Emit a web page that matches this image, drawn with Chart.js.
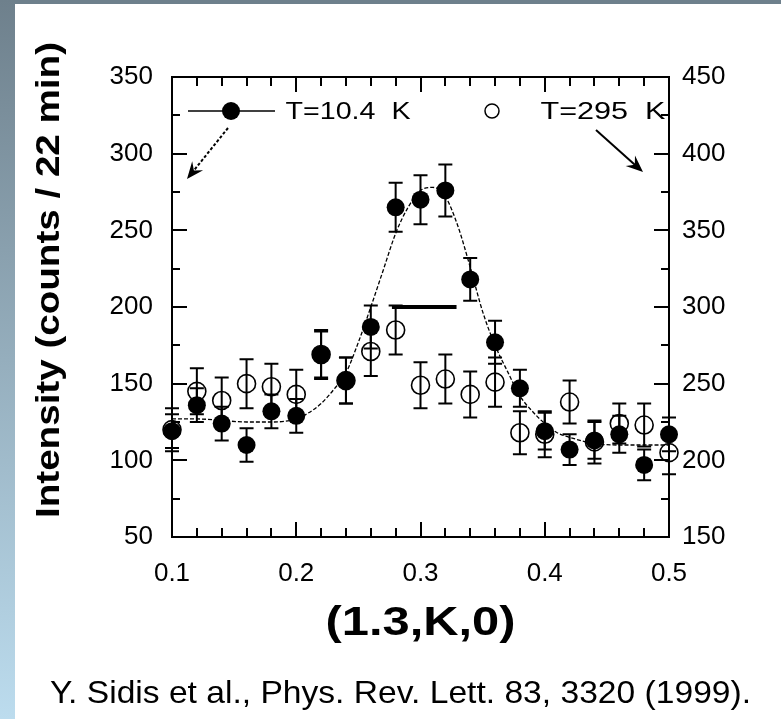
<!DOCTYPE html>
<html>
<head>
<meta charset="utf-8">
<script src="https://cdn.jsdelivr.net/npm/chart.js@4.4.1/dist/chart.umd.min.js"></script>
<style>
  html, body { margin: 0; padding: 0; background: #fff; }
  body { width: 781px; height: 719px; position: relative; overflow: hidden; font-family: 'Liberation Sans', Arial, sans-serif; }
  #faixaTopo { position: absolute; left: 0; top: 0; width: 781px; height: 4px; background: #6e808c; }
  #faixaLado { position: absolute; left: 0; top: 0; width: 15px; height: 719px; background: linear-gradient(#6e808c, #bcdcee); }
  #grafico { position: absolute; left: 0; top: 0; }
  #citacao { position: absolute; left: 50px; top: 676px; font-size: 32px; line-height: 32px; color: #000; white-space: nowrap; transform: scaleX(1.05); transform-origin: left center; }
</style>
</head>
<body>
<div id="faixaTopo"></div>
<div id="faixaLado"></div>
<canvas id="grafico" width="781" height="719"></canvas>
<div id="citacao">Y. Sidis et al., Phys. Rev. Lett. 83, 3320 (1999).</div>
<script>
// posições em K (1.3,K,0)
const kValores = [0.10, 0.12, 0.14, 0.16, 0.18, 0.20, 0.22, 0.24, 0.26, 0.28, 0.30,
                  0.32, 0.34, 0.36, 0.38, 0.40, 0.42, 0.44, 0.46, 0.48, 0.50];

// T = 10.4 K (eixo da esquerda)
const contagens10 = [119, 136, 124, 110, 132, 129, 169, 152, 187, 265, 270,
                     276, 218, 177, 147, 119, 107, 113, 117, 97, 117];
const erros10 = [11, 11, 11, 11, 11, 11, 16, 15, 14, 16, 16,
                 17, 14, 14, 12, 12, 10, 12, 12, 10, 11];

// T = 295 K (eixo da direita)
const contagens295 = [220, 245, 239, 250, 248, 243, 269, 252, 271, 285, 249,
                      253, 243, 251, 218, 217, 238, 212, 224, 223, 205];
const erros295 = [14, 15, 15, 16, 15, 16, 15, 15, 16, 16, 15,
                  16, 15, 16, 14, 15, 14, 14, 13, 14, 14];

// curva ajustada a 10.4 K
const ajusteK = [0.10, 0.12, 0.14, 0.16, 0.18, 0.20, 0.21, 0.22, 0.23, 0.24, 0.25,
                 0.26, 0.27, 0.28, 0.29, 0.30, 0.31, 0.32, 0.33, 0.34, 0.35, 0.36,
                 0.37, 0.38, 0.39, 0.40, 0.41, 0.42, 0.44, 0.46, 0.48, 0.50];
const ajusteI = [127, 127, 126, 125, 125, 127, 131, 137, 146, 157, 177,
                 200, 224, 248, 265, 276, 278, 272, 253, 226, 197, 175,
                 158, 142, 132, 124, 118, 115, 111, 110, 110, 110];

// resolução instrumental
const resolucaoK = [0.277, 0.329];
const resolucaoI = [200, 200];

// marcas e rótulos dos eixos
const xRotulos = [0.1, 0.2, 0.3, 0.4, 0.5];
const xMenores = [0.12, 0.14, 0.16, 0.18, 0.22, 0.24, 0.26, 0.28, 0.32, 0.34, 0.36, 0.38, 0.42, 0.44, 0.46, 0.48];
const yRotulos = [50, 100, 150, 200, 250, 300, 350];
const yMenores = [75, 125, 175, 225, 275, 325];
const y2Rotulos = [150, 200, 250, 300, 350, 400, 450];
const y2Menores = [175, 225, 275, 325, 375, 425];

const legenda10 = 'T=10.4  K';
const legenda295 = 'T=295  K';
const tituloY = 'Intensity (counts / 22 min)';
const tituloX = '(1.3,K,0)';

const FONTE = "'Liberation Sans', Arial, Helvetica, sans-serif";

function textoEsticado(ctx, texto, x, y, largura, fonte, angulo) {
  ctx.save();
  ctx.font = fonte;
  ctx.translate(x, y);
  ctx.rotate(angulo);
  const w = ctx.measureText(texto).width;
  ctx.scale(largura / w, 1);
  ctx.textAlign = 'center';
  ctx.textBaseline = 'middle';
  ctx.fillStyle = '#000';
  ctx.fillText(texto, 0, 0);
  ctx.restore();
}

function seta(ctx, x0, y0, x1, y1, tracejada) {
  const ang = Math.atan2(y1 - y0, x1 - x0);
  const comp = 17, abertura = 7;
  ctx.save();
  ctx.strokeStyle = '#000';
  ctx.fillStyle = '#000';
  ctx.lineWidth = 2;
  ctx.setLineDash(tracejada ? [3, 2] : []);
  ctx.beginPath();
  ctx.moveTo(x0, y0);
  ctx.lineTo(x1 - Math.cos(ang) * 8, y1 - Math.sin(ang) * 8);
  ctx.stroke();
  ctx.setLineDash([]);
  ctx.translate(x1, y1);
  ctx.rotate(ang);
  ctx.beginPath();
  ctx.moveTo(0, 0);
  ctx.lineTo(-comp, -abertura);
  ctx.lineTo(-comp + 6, 0);
  ctx.lineTo(-comp, abertura);
  ctx.closePath();
  ctx.fill();
  ctx.restore();
}

// moldura e marcas para dentro nos quatro lados
const moldura = {
  id: 'moldura',
  beforeDatasetsDraw(chart) {
    const { ctx, chartArea: a, scales: { x, y, y2 } } = chart;
    ctx.save();
    ctx.strokeStyle = '#000';
    ctx.lineWidth = 2;
    ctx.beginPath();
    const vert = (v, len) => {
      const px = Math.round(x.getPixelForValue(v));
      ctx.moveTo(px, a.bottom); ctx.lineTo(px, a.bottom - len);
      ctx.moveTo(px, a.top); ctx.lineTo(px, a.top + len);
    };
    xRotulos.forEach(v => vert(v, 15));
    xMenores.forEach(v => vert(v, 9));
    const horiz = (escala, v, len, lado) => {
      const py = Math.round(escala.getPixelForValue(v));
      if (lado === 'esq') { ctx.moveTo(a.left, py); ctx.lineTo(a.left + len, py); }
      else { ctx.moveTo(a.right, py); ctx.lineTo(a.right - len, py); }
    };
    yRotulos.forEach(v => horiz(y, v, 15, 'esq'));
    yMenores.forEach(v => horiz(y, v, 8, 'esq'));
    y2Rotulos.forEach(v => horiz(y2, v, 15, 'dir'));
    y2Menores.forEach(v => horiz(y2, v, 8, 'dir'));
    ctx.stroke();
    ctx.strokeRect(a.left, a.top, a.right - a.left, a.bottom - a.top);

    // barras de erro (abertos primeiro, cheios por cima)
    const barras = (valores, erros, escala) => {
      ctx.beginPath();
      kValores.forEach((k, i) => {
        const px = x.getPixelForValue(k);
        const topo = escala.getPixelForValue(valores[i] + erros[i]);
        const base = escala.getPixelForValue(valores[i] - erros[i]);
        ctx.moveTo(px, topo); ctx.lineTo(px, base);
        ctx.moveTo(px - 7, topo); ctx.lineTo(px + 7, topo);
        ctx.moveTo(px - 7, base); ctx.lineTo(px + 7, base);
      });
      ctx.stroke();
    };
    barras(contagens295, erros295, y2);
    barras(contagens10, erros10, y);
    ctx.restore();
  },
  afterDraw(chart) {
    const { ctx, chartArea: a } = chart;
    ctx.save();
    // legenda
    ctx.strokeStyle = '#000';
    ctx.lineWidth = 1.5;
    ctx.beginPath();
    ctx.moveTo(a.left + 16, a.top + 34);
    ctx.lineTo(a.left + 103, a.top + 34);
    ctx.stroke();
    ctx.fillStyle = '#000';
    ctx.beginPath();
    ctx.arc(a.left + 59, a.top + 34, 9, 0, Math.PI * 2);
    ctx.fill();
    ctx.beginPath();
    ctx.lineWidth = 1.5;
    ctx.arc(a.left + 320, a.top + 34, 7, 0, Math.PI * 2);
    ctx.stroke();
    ctx.restore();
    textoEsticado(ctx, legenda10, a.left + 176, a.top + 35, 125, '24px ' + FONTE, 0);
    textoEsticado(ctx, legenda295, a.left + 431, a.top + 35, 125, '24px ' + FONTE, 0);
    seta(ctx, a.left + 56, a.top + 51, a.left + 15, a.top + 102, true);
    seta(ctx, a.left + 424, a.top + 53, a.left + 471, a.top + 95, false);

    // títulos dos eixos
    textoEsticado(ctx, tituloY, 50, 280, 476, 'bold 33px ' + FONTE, -Math.PI / 2);
    textoEsticado(ctx, tituloX, (a.left + a.right) / 2, 624, 190, 'bold 40px ' + FONTE, 0);
  }
};

const rotuloFonte = { family: FONTE, size: 26 };

new Chart(document.getElementById('grafico'), {
  type: 'scatter',
  data: {
    datasets: [
      {
        label: legenda10,
        data: kValores.map((k, i) => ({ x: k, y: contagens10[i] })),
        yAxisID: 'y',
        pointRadius: 9,
        pointBackgroundColor: '#000',
        pointBorderColor: '#000',
        pointBorderWidth: 0,
        clip: false
      },
      {
        label: legenda295,
        data: kValores.map((k, i) => ({ x: k, y: contagens295[i] })),
        yAxisID: 'y2',
        pointRadius: 9,
        pointBackgroundColor: 'rgba(0,0,0,0)',
        pointBorderColor: '#000',
        pointBorderWidth: 1.6,
        clip: false
      },
      {
        type: 'line',
        label: 'ajuste',
        data: ajusteK.map((k, i) => ({ x: k, y: ajusteI[i] })),
        yAxisID: 'y',
        borderColor: '#000',
        borderWidth: 1.3,
        borderDash: [4, 2],
        pointRadius: 0,
        cubicInterpolationMode: 'monotone',
        clip: false
      },
      {
        type: 'line',
        label: 'resolução',
        data: resolucaoK.map((k, i) => ({ x: k, y: resolucaoI[i] })),
        yAxisID: 'y',
        borderColor: '#000',
        borderWidth: 4,
        pointRadius: 0
      }
    ]
  },
  options: {
    responsive: false,
    animation: false,
    devicePixelRatio: 1,
    layout: { padding: { left: 0, right: 0, top: 77, bottom: 0 } },
    plugins: { legend: { display: false }, tooltip: { enabled: false } },
    scales: {
      x: {
        type: 'linear',
        min: 0.1,
        max: 0.5,
        afterBuildTicks: s => { s.ticks = xRotulos.map(v => ({ value: v })); },
        afterFit: s => { s.height = 182; },
        ticks: { color: '#000', font: rotuloFonte, padding: 21, autoSkip: false, maxRotation: 0, callback: v => v.toFixed(1) },
        grid: { display: false, drawTicks: false },
        border: { display: false }
      },
      y: {
        position: 'left',
        min: 50,
        max: 350,
        afterBuildTicks: s => { s.ticks = yRotulos.map(v => ({ value: v })); },
        afterFit: s => { s.width = 172; },
        ticks: { color: '#000', font: rotuloFonte, padding: 19 },
        grid: { display: false, drawTicks: false },
        border: { display: false }
      },
      y2: {
        position: 'right',
        min: 150,
        max: 450,
        afterBuildTicks: s => { s.ticks = y2Rotulos.map(v => ({ value: v })); },
        afterFit: s => { s.width = 112; },
        ticks: { color: '#000', font: rotuloFonte, padding: 13 },
        grid: { display: false, drawTicks: false },
        border: { display: false }
      }
    }
  },
  plugins: [moldura]
});
</script>
</body>
</html>
